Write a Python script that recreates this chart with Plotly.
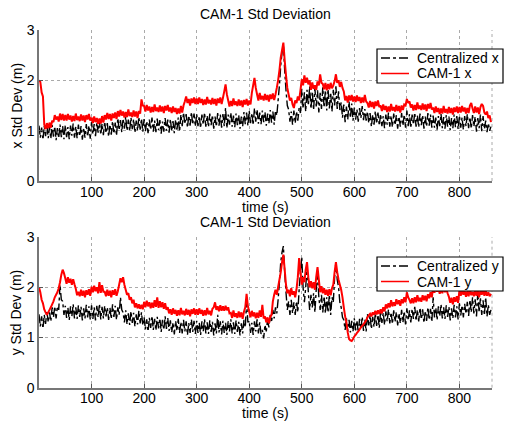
import plotly.graph_objects as go

# sample times (s), every 2.5 s from 0 to 860
time_s = [i * 2.5 for i in range(345)]

# ---- top panel: x std dev ----
cam1_x = [
    2.0, 1.97, 1.76, 1.68, 1.12, 1.03, 1.15, 1.05, 1.16, 1.06, 1.2, 1.17, 1.31, 1.22, 1.28, 1.18, 1.34, 1.21, 1.33, 1.2,
    1.31, 1.2, 1.33, 1.22, 1.3, 1.18, 1.29, 1.19, 1.34, 1.21, 1.28, 1.19, 1.32, 1.2, 1.3, 1.17, 1.31, 1.22, 1.33, 1.2,
    1.26, 1.15, 1.28, 1.17, 1.25, 1.13, 1.24, 1.14, 1.29, 1.16, 1.31, 1.22, 1.35, 1.23, 1.33, 1.2, 1.34, 1.25, 1.36, 1.23,
    1.39, 1.28, 1.41, 1.3, 1.38, 1.26, 1.37, 1.27, 1.42, 1.29, 1.36, 1.27, 1.4, 1.28, 1.38, 1.25, 1.39, 1.34, 1.62, 1.5,
    1.49, 1.38, 1.51, 1.4, 1.48, 1.36, 1.47, 1.37, 1.52, 1.39, 1.46, 1.37, 1.5, 1.38, 1.48, 1.35, 1.49, 1.4, 1.51, 1.38,
    1.46, 1.35, 1.48, 1.37, 1.45, 1.33, 1.44, 1.34, 1.49, 1.36, 1.5, 1.58, 1.68, 1.55, 1.63, 1.5, 1.64, 1.55, 1.66, 1.53,
    1.64, 1.53, 1.66, 1.55, 1.63, 1.51, 1.62, 1.52, 1.67, 1.54, 1.61, 1.52, 1.65, 1.53, 1.63, 1.5, 1.64, 1.55, 1.66, 1.53,
    1.65, 1.78, 1.92, 1.72, 1.6, 1.48, 1.59, 1.49, 1.64, 1.51, 1.58, 1.49, 1.62, 1.5, 1.6, 1.47, 1.61, 1.52, 1.63, 1.5,
    1.6, 1.52, 1.75, 1.9, 2.05, 1.85, 1.72, 1.6, 1.75, 1.62, 1.69, 1.6, 1.73, 1.61, 1.71, 1.58, 1.72, 1.63, 1.74, 1.61,
    1.72, 1.85, 2.0, 2.2, 2.45, 2.6, 2.75, 2.4, 2.1, 1.85, 1.72, 1.6, 1.65, 1.52, 1.45, 1.6, 1.55, 1.68, 1.6, 1.8,
    2.02, 1.9, 2.1, 1.95, 2.05, 1.92, 2.0, 1.81, 1.96, 1.83, 1.9, 1.81, 1.98, 1.9, 2.12, 1.95, 1.93, 1.82, 1.95, 1.8,
    1.93, 1.82, 1.95, 1.84, 1.9, 1.98, 2.12, 1.95, 2.0, 1.87, 1.97, 1.85, 1.78, 1.6, 1.69, 1.56, 1.7, 1.6, 1.71, 1.58,
    1.68, 1.57, 1.7, 1.59, 1.67, 1.55, 1.66, 1.56, 1.71, 1.58, 1.55, 1.46, 1.59, 1.47, 1.57, 1.44, 1.58, 1.49, 1.6, 1.47,
    1.5, 1.39, 1.52, 1.41, 1.49, 1.37, 1.48, 1.38, 1.53, 1.4, 1.47, 1.38, 1.51, 1.39, 1.49, 1.36, 1.5, 1.41, 1.52, 1.5,
    1.63, 1.55, 1.58, 1.46, 1.52, 1.4, 1.51, 1.41, 1.56, 1.43, 1.5, 1.41, 1.54, 1.42, 1.52, 1.39, 1.53, 1.44, 1.55, 1.42,
    1.46, 1.35, 1.48, 1.37, 1.45, 1.33, 1.44, 1.34, 1.49, 1.36, 1.43, 1.34, 1.47, 1.35, 1.45, 1.32, 1.46, 1.37, 1.48, 1.35,
    1.47, 1.36, 1.49, 1.38, 1.46, 1.34, 1.45, 1.35, 1.5, 1.55, 1.44, 1.35, 1.48, 1.36, 1.46, 1.33, 1.47, 1.53, 1.49, 1.36,
    1.32, 1.38, 1.25, 1.3, 1.17,
]
central_x = [
    1.1, 0.86, 1.06, 0.82, 1.09, 0.89, 1.13, 0.85, 1.07, 0.84, 1.11, 0.88, 1.08, 0.81, 1.05, 0.85, 1.12, 0.87, 1.09, 0.83,
    1.11, 0.87, 1.07, 0.83, 1.1, 0.9, 1.14, 0.86, 1.08, 0.85, 1.12, 0.89, 1.09, 0.82, 1.06, 0.86, 1.13, 0.88, 1.1, 0.84,
    1.17, 0.93, 1.13, 0.89, 1.16, 0.96, 1.2, 0.92, 1.14, 0.91, 1.18, 0.95, 1.15, 0.88, 1.12, 0.92, 1.19, 0.94, 1.16, 0.9,
    1.25, 1.01, 1.21, 0.97, 1.24, 1.04, 1.28, 1.0, 1.22, 0.99, 1.26, 1.03, 1.23, 0.96, 1.2, 1.0, 1.27, 1.02, 1.24, 0.98,
    1.23, 0.99, 1.19, 0.95, 1.22, 1.02, 1.26, 0.98, 1.2, 0.97, 1.24, 1.01, 1.21, 0.94, 1.18, 0.98, 1.25, 1.0, 1.22, 0.96,
    1.23, 0.99, 1.19, 0.95, 1.22, 1.02, 1.26, 0.98, 1.32, 1.09, 1.36, 1.13, 1.33, 1.06, 1.3, 1.1, 1.37, 1.12, 1.34, 1.08,
    1.33, 1.09, 1.29, 1.05, 1.32, 1.12, 1.36, 1.08, 1.3, 1.07, 1.34, 1.11, 1.31, 1.04, 1.28, 1.08, 1.35, 1.1, 1.32, 1.06,
    1.33, 1.09, 1.45, 1.05, 1.32, 1.12, 1.36, 1.08, 1.3, 1.07, 1.34, 1.11, 1.31, 1.04, 1.28, 1.08, 1.37, 1.13, 1.36, 1.1,
    1.39, 1.15, 1.35, 1.11, 1.45, 1.18, 1.42, 1.14, 1.36, 1.13, 1.4, 1.17, 1.37, 1.1, 1.34, 1.14, 1.41, 1.16, 1.38, 1.12,
    1.4, 1.3, 1.6, 1.9, 2.3, 2.55, 2.72, 2.2, 1.8, 1.5, 1.42, 1.18, 1.38, 1.12, 1.4, 1.15, 1.38, 1.2, 1.45, 1.35,
    1.83, 1.44, 1.76, 1.38, 1.81, 1.5, 1.88, 1.43, 1.78, 1.41, 1.84, 1.48, 1.8, 1.36, 1.75, 1.43, 1.86, 1.46, 1.81, 1.4,
    1.83, 1.44, 1.76, 1.38, 1.81, 1.5, 1.88, 1.43, 1.78, 1.41, 1.56, 1.26, 1.52, 1.17, 1.48, 1.22, 1.58, 1.25, 1.54, 1.2,
    1.46, 1.22, 1.42, 1.18, 1.45, 1.25, 1.49, 1.21, 1.43, 1.2, 1.38, 1.15, 1.35, 1.08, 1.32, 1.12, 1.39, 1.14, 1.36, 1.1,
    1.33, 1.09, 1.29, 1.05, 1.32, 1.12, 1.36, 1.08, 1.3, 1.07, 1.34, 1.11, 1.31, 1.04, 1.28, 1.08, 1.35, 1.1, 1.32, 1.06,
    1.4, 1.09, 1.33, 1.05, 1.32, 1.12, 1.36, 1.08, 1.3, 1.07, 1.34, 1.11, 1.31, 1.04, 1.28, 1.08, 1.35, 1.1, 1.32, 1.06,
    1.3, 1.06, 1.26, 1.02, 1.29, 1.09, 1.33, 1.05, 1.27, 1.04, 1.31, 1.08, 1.28, 1.01, 1.25, 1.05, 1.32, 1.07, 1.29, 1.03,
    1.3, 1.06, 1.26, 1.02, 1.29, 1.09, 1.33, 1.05, 1.27, 1.04, 1.31, 1.08, 1.28, 0.98, 1.25, 1.05, 1.32, 0.99, 1.29, 1.03,
    1.2, 0.97, 1.15, 1.0, 1.08,
]

# ---- bottom panel: y std dev ----
cam1_y = [
    2.0, 1.9, 1.75, 1.68, 1.56, 1.5, 1.45, 1.5, 1.55, 1.6, 1.66, 1.72, 1.8, 1.85, 1.9, 1.98, 2.1, 2.25, 2.35, 2.28,
    2.18, 2.07, 2.2, 2.09, 2.17, 2.05, 2.16, 2.06, 1.97, 1.84, 1.91, 1.82, 1.95, 1.83, 1.93, 1.8, 1.94, 1.85, 1.96, 1.83,
    2.01, 1.9, 2.03, 1.92, 2.0, 1.88, 2.1, 1.89, 2.04, 1.91, 1.91, 1.82, 1.95, 1.83, 1.93, 1.8, 1.94, 1.85, 1.96, 1.83,
    1.92, 2.05, 2.18, 2.1, 2.2, 2.05, 1.95, 1.85, 1.88, 1.75, 1.8, 1.68, 1.75, 1.6, 1.68, 1.58, 1.66, 1.57, 1.65, 1.56,
    1.71, 1.6, 1.73, 1.62, 1.7, 1.58, 1.69, 1.59, 1.74, 1.61, 1.8, 1.59, 1.72, 1.6, 1.7, 1.57, 1.68, 1.55, 1.6, 1.48,
    1.56, 1.45, 1.58, 1.47, 1.55, 1.43, 1.54, 1.44, 1.59, 1.46, 1.53, 1.44, 1.57, 1.45, 1.55, 1.42, 1.56, 1.47, 1.58, 1.45,
    1.56, 1.45, 1.58, 1.47, 1.55, 1.43, 1.54, 1.44, 1.59, 1.46, 1.53, 1.44, 1.57, 1.6, 1.7, 1.55, 1.62, 1.52, 1.64, 1.53,
    1.62, 1.53, 1.63, 1.54, 1.6, 1.48, 1.49, 1.39, 1.54, 1.41, 1.48, 1.39, 1.52, 1.4, 1.5, 1.37, 1.51, 1.6, 1.87, 1.62,
    1.51, 1.4, 1.53, 1.42, 1.5, 1.38, 1.49, 1.39, 1.54, 1.41, 1.65, 1.38, 1.42, 1.3, 1.4, 1.28, 1.41, 1.45, 1.72, 1.85,
    1.95, 1.85, 2.0, 2.15, 2.3, 2.5, 2.65, 2.35, 2.05, 1.88, 1.95, 1.82, 1.98, 1.85, 1.92, 1.8, 1.96, 2.2, 2.58, 2.3,
    2.05, 2.2, 2.1, 2.35, 2.5, 2.2, 2.0, 2.12, 1.98, 2.1, 1.95, 2.2, 2.4, 2.15, 1.9, 2.02, 1.88, 1.98, 1.85, 1.95,
    1.83, 1.96, 1.84, 1.98, 2.05, 2.3, 2.5, 2.3, 2.15, 2.05, 1.95, 1.8, 1.6, 1.42, 1.3, 1.1, 0.97, 0.94, 0.93, 0.97,
    1.02, 1.05, 1.09, 1.12, 1.16, 1.2, 1.23, 1.26, 1.3, 1.34, 1.4, 1.44, 1.47, 1.42, 1.5, 1.45, 1.53, 1.46, 1.54, 1.47,
    1.56, 1.48, 1.6, 1.52, 1.66, 1.58, 1.68, 1.6, 1.74, 1.62, 1.7, 1.63, 1.76, 1.66, 1.74, 1.63, 1.76, 1.68, 1.8, 1.7,
    1.9, 1.8, 1.75, 1.68, 1.78, 1.68, 1.8, 1.7, 1.84, 1.72, 1.79, 1.71, 1.84, 1.74, 1.83, 1.72, 1.86, 1.78, 1.9, 1.8,
    2.0, 1.89, 2.02, 1.91, 1.99, 1.87, 1.98, 1.88, 2.03, 1.9, 1.97, 1.88, 1.81, 1.69, 1.79, 1.66, 1.8, 1.71, 1.82, 1.69,
    1.94, 1.83, 1.96, 1.85, 1.93, 1.81, 1.92, 1.82, 1.97, 1.84, 1.91, 1.82, 1.95, 1.83, 1.93, 1.8, 1.94, 1.85, 1.96, 1.83,
    1.93, 1.83, 1.9, 1.82, 1.87,
]
central_y = [
    1.46, 1.22, 1.42, 1.18, 1.45, 1.27, 1.53, 1.3, 1.5, 1.32, 1.6, 1.4, 1.62, 1.38, 1.62, 1.55, 2.05, 1.75, 1.72, 1.45,
    1.63, 1.39, 1.59, 1.35, 1.62, 1.42, 1.66, 1.38, 1.6, 1.37, 1.64, 1.41, 1.61, 1.34, 1.58, 1.38, 1.65, 1.4, 1.62, 1.36,
    1.64, 1.37, 1.6, 1.34, 1.63, 1.4, 1.67, 1.36, 1.61, 1.38, 1.63, 1.42, 1.6, 1.35, 1.59, 1.37, 1.66, 1.41, 1.63, 1.35,
    1.6, 1.45, 1.8, 1.55, 1.5, 1.3, 1.54, 1.26, 1.48, 1.25, 1.52, 1.29, 1.49, 1.22, 1.46, 1.26, 1.53, 1.28, 1.5, 1.24,
    1.4, 1.16, 1.36, 1.12, 1.39, 1.19, 1.43, 1.15, 1.37, 1.14, 1.41, 1.18, 1.38, 1.11, 1.35, 1.15, 1.42, 1.17, 1.39, 1.13,
    1.34, 1.1, 1.3, 1.06, 1.33, 1.13, 1.37, 1.09, 1.31, 1.08, 1.35, 1.12, 1.32, 1.05, 1.29, 1.09, 1.36, 1.11, 1.33, 1.07,
    1.33, 1.09, 1.29, 1.05, 1.32, 1.12, 1.36, 1.08, 1.3, 1.07, 1.34, 1.11, 1.31, 1.04, 1.28, 1.08, 1.45, 1.1, 1.32, 1.06,
    1.33, 1.09, 1.29, 1.05, 1.32, 1.12, 1.36, 1.08, 1.3, 1.07, 1.34, 1.11, 1.31, 1.04, 1.28, 1.08, 1.35, 1.2, 1.7, 1.3,
    1.33, 1.09, 1.29, 1.05, 1.32, 1.12, 1.36, 1.08, 1.3, 1.07, 1.15, 0.98, 1.25, 1.12, 1.36, 1.2, 1.45, 1.3, 1.55, 1.38,
    1.6, 1.48, 1.75, 2.1, 2.5, 2.7, 2.82, 2.3, 1.9, 1.55, 1.72, 1.45, 1.75, 1.48, 1.7, 1.45, 1.72, 1.5, 1.95, 2.3,
    2.6, 2.0, 1.7, 2.0, 2.4, 1.9, 1.55, 1.85, 1.6, 1.88, 1.5, 1.95, 2.3, 1.8, 1.55, 1.85, 1.5, 1.82, 1.48, 1.8,
    1.5, 1.85, 1.45, 1.8, 1.7, 2.2, 2.5, 2.15, 2.0, 1.7, 1.6, 1.4, 1.35, 1.15, 1.38, 1.12, 1.35, 1.1, 1.33, 1.12,
    1.38, 1.14, 1.34, 1.1, 1.37, 1.17, 1.41, 1.13, 1.35, 1.12, 1.47, 1.24, 1.44, 1.17, 1.41, 1.21, 1.48, 1.23, 1.45, 1.19,
    1.53, 1.29, 1.49, 1.25, 1.52, 1.32, 1.56, 1.28, 1.5, 1.27, 1.54, 1.31, 1.51, 1.24, 1.48, 1.28, 1.55, 1.3, 1.52, 1.26,
    1.58, 1.34, 1.54, 1.3, 1.57, 1.37, 1.61, 1.33, 1.55, 1.32, 1.59, 1.36, 1.56, 1.29, 1.53, 1.33, 1.6, 1.35, 1.57, 1.31,
    1.8, 1.4, 1.59, 1.35, 1.62, 1.42, 1.66, 1.38, 1.6, 1.37, 1.64, 1.41, 1.61, 1.34, 1.58, 1.38, 1.65, 1.4, 1.62, 1.36,
    1.68, 1.44, 1.64, 1.4, 1.67, 1.47, 1.71, 1.43, 1.75, 1.5, 1.8, 1.48, 1.76, 1.42, 1.9, 1.5, 1.78, 1.45, 1.74, 1.44,
    1.8, 1.42, 1.65, 1.45, 1.55,
]

x_ticks = [100, 200, 300, 400, 500, 600, 700, 800]
y_ticks = [0, 1, 2, 3]
title_text = "CAM-1 Std Deviation"
legend_top = ["Centralized x", "CAM-1 x"]
legend_bot = ["Centralized y", "CAM-1 y"]

W, H = 507, 423
FONT = "Liberation Sans, Arial, Helvetica, sans-serif"
BLACK_LINE = dict(color="black", width=1.4, dash="dashdot", simplify=False)
RED_LINE = dict(color="#ff0000", width=2.0, simplify=False)

fig = go.Figure()
fig.add_trace(go.Scatter(x=time_s, y=central_x, mode="lines", name=legend_top[0],
                         line=BLACK_LINE, xaxis="x", yaxis="y", showlegend=False))
fig.add_trace(go.Scatter(x=time_s, y=cam1_x, mode="lines", name=legend_top[1],
                         line=RED_LINE, xaxis="x", yaxis="y", showlegend=False))
fig.add_trace(go.Scatter(x=time_s, y=central_y, mode="lines", name=legend_bot[0],
                         line=BLACK_LINE, xaxis="x2", yaxis="y2", showlegend=False))
fig.add_trace(go.Scatter(x=time_s, y=cam1_y, mode="lines", name=legend_bot[1],
                         line=RED_LINE, xaxis="x2", yaxis="y2", showlegend=False))

xdom = [39 / W, 492 / W]
top_dom = [1 - 181 / H, 1 - 30 / H]
bot_dom = [1 - 387.7 / H, 1 - 237 / H]

axis_common = dict(
    showline=True, linecolor="#777777", linewidth=1.5,
    ticks="inside", ticklen=4, tickcolor="#555555",
    showgrid=True, gridcolor="#aaaaaa", griddash="dot", gridwidth=1,
    zeroline=False, automargin=False,
    tickfont=dict(family=FONT, size=14, color="black"),
)

fig.update_layout(
    width=W, height=H,
    margin=dict(l=0, r=0, t=0, b=0),
    paper_bgcolor="white", plot_bgcolor="white",
    font=dict(family=FONT, size=14, color="black"),
    xaxis=dict(domain=xdom, anchor="y", range=[0, 862], tickvals=x_ticks,
               ticklabelstandoff=-3, **axis_common),
    yaxis=dict(domain=top_dom, anchor="x", range=[0, 3], tickvals=y_ticks, **axis_common),
    xaxis2=dict(domain=xdom, anchor="y2", range=[0, 862], tickvals=x_ticks,
                ticklabelstandoff=-3, **axis_common),
    yaxis2=dict(domain=bot_dom, anchor="x2", range=[0, 3], tickvals=y_ticks, **axis_common),
    showlegend=False,
)

shapes = []
# dotted right frame edge like the reference
for xr, yr in (("x domain", "y domain"), ("x2 domain", "y2 domain")):
    shapes.append(dict(type="line", xref=xr, yref=yr, x0=1, x1=1, y0=0, y1=1,
                       line=dict(color="#aaaaaa", width=1, dash="dot"), layer="below"))

ann = []
# legend boxes (layout decoration)
for top_px, labels in ((49, legend_top), (257, legend_bot)):
    y0 = 1 - (top_px + 34) / H
    y1 = 1 - top_px / H
    shapes.append(dict(type="rect", xref="paper", yref="paper",
                       x0=377 / W, x1=503 / W, y0=y0, y1=y1,
                       line=dict(color="black", width=1.2), fillcolor="white", layer="above"))
    for k, (lab, style) in enumerate(zip(labels, (BLACK_LINE, RED_LINE))):
        yy = 1 - (top_px + 9 + 15.5 * k) / H
        shapes.append(dict(type="line", xref="paper", yref="paper",
                           x0=381 / W, x1=409 / W, y0=yy, y1=yy,
                           line=dict(color=style["color"], width=1.5,
                                     dash=style.get("dash", "solid")), layer="above"))
        ann.append(dict(text=lab, x=415 / W, y=yy, xref="paper", yref="paper",
                        showarrow=False, xanchor="left", yanchor="middle"))

cx = (xdom[0] + xdom[1]) / 2
ann.append(dict(text=title_text, x=cx, y=1 - 14 / H, xref="paper", yref="paper",
                showarrow=False, xanchor="center", yanchor="middle"))
ann.append(dict(text=title_text, x=cx, y=1 - 222 / H, xref="paper", yref="paper",
                showarrow=False, xanchor="center", yanchor="middle"))
ann.append(dict(text="time (s)", x=cx, y=1 - 207 / H, xref="paper", yref="paper",
                showarrow=False, xanchor="center", yanchor="middle"))
ann.append(dict(text="time (s)", x=cx, y=1 - 413 / H, xref="paper", yref="paper",
                showarrow=False, xanchor="center", yanchor="middle"))
ann.append(dict(text="x Std Dev (m)", x=16 / W, y=(top_dom[0] + top_dom[1]) / 2,
                xref="paper", yref="paper", showarrow=False, textangle=-90,
                xanchor="center", yanchor="middle"))
ann.append(dict(text="y Std Dev (m)", x=16 / W, y=(bot_dom[0] + bot_dom[1]) / 2,
                xref="paper", yref="paper", showarrow=False, textangle=-90,
                xanchor="center", yanchor="middle"))
for a in ann:
    a["font"] = dict(family=FONT, size=14, color="black")
fig.update_layout(annotations=ann, shapes=shapes)

fig.write_html("out.html", config={"displayModeBar": False},
               post_script="document.body.style.margin='0px';")
